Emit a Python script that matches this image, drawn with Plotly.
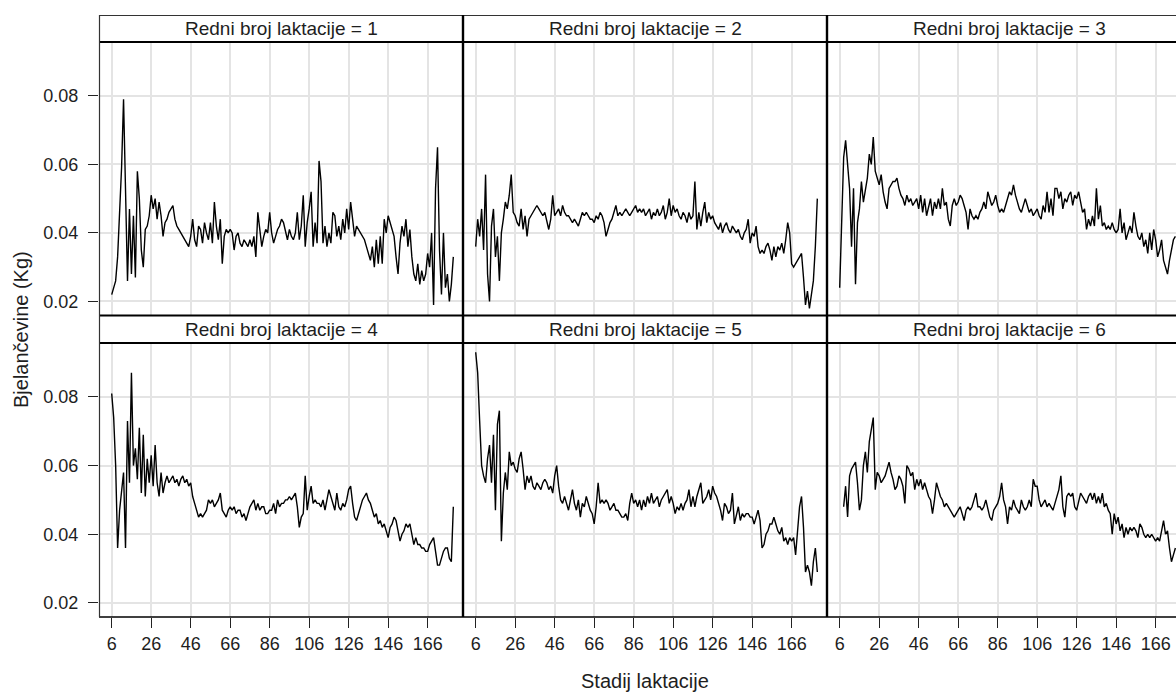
import plotly.graph_objects as go

# ---------------- data ----------------
tick_days = [6, 26, 46, 66, 86, 106, 126, 146, 166]
tick_day_labels = ["6", "26", "46", "66", "86", "106", "126", "146", "166"]
tick_prot = [0.02, 0.04, 0.06, 0.08]
tick_prot_labels = ["0.02", "0.04", "0.06", "0.08"]
panel_titles = ["Redni broj laktacije = 1", "Redni broj laktacije = 2", "Redni broj laktacije = 3",
                "Redni broj laktacije = 4", "Redni broj laktacije = 5", "Redni broj laktacije = 6"]
x_title = "Stadij laktacije"
y_title = "Bjelančevine (Kg)"

first_day = [6, 6, 6, 6, 6, 8]

prot_1 = [
    0.022, 0.024, 0.026, 0.033, 0.046, 0.059, 0.079, 0.053, 0.026, 0.047,
    0.028, 0.045, 0.027, 0.058, 0.050, 0.035, 0.030, 0.041, 0.042, 0.045,
    0.051, 0.047, 0.050, 0.044, 0.049, 0.045, 0.039, 0.043, 0.044, 0.046,
    0.047, 0.048, 0.044, 0.042, 0.041, 0.040, 0.039, 0.038, 0.037, 0.036,
    0.039, 0.044, 0.038, 0.036, 0.042, 0.041, 0.037, 0.043, 0.040, 0.038,
    0.043, 0.037, 0.049, 0.042, 0.038, 0.044, 0.031, 0.039, 0.041, 0.040,
    0.041, 0.040, 0.035, 0.039, 0.040, 0.037, 0.036, 0.038, 0.037, 0.036,
    0.038, 0.036, 0.039, 0.033, 0.046, 0.040, 0.036, 0.039, 0.041, 0.040,
    0.046, 0.040, 0.037, 0.039, 0.041, 0.042, 0.044, 0.043, 0.040, 0.038,
    0.041, 0.039, 0.038, 0.040, 0.046, 0.038, 0.042, 0.051, 0.036, 0.043,
    0.047, 0.052, 0.036, 0.043, 0.037, 0.061, 0.055, 0.037, 0.042, 0.036,
    0.040, 0.037, 0.046, 0.045, 0.039, 0.042, 0.038, 0.044, 0.040, 0.047,
    0.041, 0.049, 0.044, 0.039, 0.042, 0.041, 0.040, 0.039, 0.038, 0.036,
    0.034, 0.032, 0.036, 0.030, 0.038, 0.031, 0.039, 0.031, 0.044, 0.040,
    0.045, 0.043, 0.041, 0.039, 0.033, 0.028, 0.037, 0.042, 0.039, 0.044,
    0.036, 0.041, 0.033, 0.028, 0.026, 0.031, 0.025, 0.029, 0.026, 0.028,
    0.034, 0.030, 0.040, 0.019, 0.053, 0.065, 0.035, 0.022, 0.040, 0.024,
    0.028, 0.020, 0.025, 0.033,
]

prot_2 = [
    0.036, 0.044, 0.039, 0.047, 0.035, 0.057, 0.028, 0.020, 0.042, 0.047,
    0.033, 0.039, 0.026, 0.040, 0.044, 0.049, 0.047, 0.051, 0.057, 0.046,
    0.045, 0.043, 0.042, 0.047, 0.041, 0.045, 0.039, 0.044, 0.045, 0.046,
    0.047, 0.048, 0.047, 0.046, 0.045, 0.046, 0.043, 0.041, 0.044, 0.051,
    0.045, 0.046, 0.047, 0.045, 0.048,
    0.046, 0.045, 0.045, 0.044, 0.043, 0.044, 0.043, 0.042, 0.044, 0.046,
    0.045, 0.046, 0.045, 0.044, 0.044, 0.043, 0.045, 0.044, 0.046, 0.045,
    0.043, 0.039, 0.041, 0.043, 0.044, 0.046, 0.048, 0.045, 0.046, 0.045,
    0.046, 0.047, 0.046, 0.045, 0.046, 0.047, 0.048, 0.046, 0.047, 0.046,
    0.047, 0.045, 0.046, 0.047, 0.044, 0.046, 0.045, 0.047, 0.045, 0.046,
    0.048, 0.044, 0.046, 0.050, 0.045, 0.048, 0.046, 0.047, 0.045, 0.044,
    0.046, 0.045, 0.043, 0.046, 0.044, 0.045, 0.055, 0.041, 0.046, 0.042,
    0.046, 0.049, 0.043, 0.046, 0.044, 0.045, 0.043, 0.042, 0.041, 0.043,
    0.040, 0.042, 0.043, 0.041, 0.040, 0.042, 0.041, 0.040, 0.041, 0.039,
    0.038, 0.040, 0.041, 0.044, 0.037, 0.040, 0.039, 0.042, 0.036, 0.034,
    0.035, 0.034, 0.036, 0.037, 0.035, 0.032, 0.036, 0.033, 0.036, 0.035,
    0.037, 0.034, 0.038, 0.043, 0.040, 0.031, 0.030, 0.031, 0.032, 0.033,
    0.034, 0.027, 0.019, 0.023, 0.018, 0.022, 0.026, 0.036, 0.050,
]

prot_3 = [
    0.024, 0.044, 0.062, 0.067, 0.059, 0.053, 0.036, 0.053, 0.025, 0.043,
    0.047, 0.055, 0.049, 0.052, 0.056, 0.063, 0.060, 0.068, 0.058, 0.056,
    0.054, 0.057, 0.052, 0.049, 0.047,
    0.053, 0.054, 0.055, 0.055, 0.056, 0.053, 0.051, 0.050, 0.048, 0.051,
    0.049, 0.050, 0.048, 0.049, 0.050, 0.047, 0.051, 0.046, 0.050, 0.045,
    0.048, 0.050, 0.045, 0.049, 0.047, 0.050, 0.047, 0.053, 0.048, 0.049,
    0.044, 0.042, 0.048, 0.050, 0.048, 0.049, 0.051, 0.050, 0.048, 0.046,
    0.041, 0.047, 0.045, 0.044, 0.045, 0.044, 0.046, 0.047, 0.049, 0.047,
    0.052, 0.050, 0.048, 0.049, 0.051, 0.048, 0.046, 0.047, 0.046, 0.048,
    0.050, 0.052, 0.051, 0.054, 0.051, 0.049, 0.047, 0.046, 0.048, 0.050,
    0.048, 0.046, 0.047, 0.045, 0.046, 0.047, 0.045, 0.044, 0.048, 0.046,
    0.052, 0.046, 0.050, 0.045, 0.053, 0.053, 0.050, 0.052, 0.047, 0.050,
    0.049, 0.051, 0.052, 0.048, 0.051, 0.050, 0.052, 0.049, 0.046, 0.047,
    0.041, 0.044, 0.042, 0.045, 0.042, 0.053, 0.044, 0.048, 0.042, 0.043,
    0.041, 0.042, 0.041, 0.043, 0.041, 0.040, 0.041, 0.047, 0.040, 0.043,
    0.038, 0.040, 0.042, 0.040, 0.046, 0.042, 0.039, 0.038, 0.040, 0.036,
    0.038, 0.034, 0.040, 0.035, 0.041, 0.038, 0.033, 0.035, 0.038, 0.032,
    0.030, 0.028, 0.032, 0.035, 0.038, 0.039,
]

prot_4 = [
    0.081, 0.074, 0.060, 0.036, 0.047, 0.052, 0.058, 0.036, 0.073, 0.055,
    0.087, 0.060, 0.065, 0.056, 0.071, 0.052, 0.069, 0.051, 0.062, 0.055,
    0.063, 0.054, 0.066, 0.055, 0.051, 0.058, 0.052, 0.055, 0.057, 0.055,
    0.056, 0.057, 0.055, 0.056, 0.054, 0.056, 0.057, 0.055, 0.056, 0.054,
    0.055, 0.051, 0.049, 0.047, 0.045,
    0.046, 0.045, 0.046, 0.047, 0.050, 0.049, 0.050, 0.048, 0.049, 0.050,
    0.052, 0.047, 0.046, 0.045, 0.047, 0.048, 0.047, 0.048, 0.046, 0.047,
    0.047, 0.045, 0.046, 0.044, 0.046, 0.048, 0.049, 0.050, 0.047, 0.049,
    0.047, 0.048, 0.048, 0.046, 0.046, 0.047, 0.047, 0.049, 0.046, 0.050,
    0.048, 0.049, 0.049, 0.050, 0.050, 0.051, 0.050, 0.051, 0.052, 0.048,
    0.042, 0.045, 0.046, 0.057, 0.047, 0.051, 0.054, 0.049, 0.050, 0.049,
    0.049, 0.048, 0.050, 0.047, 0.050, 0.053, 0.051, 0.049, 0.047, 0.052,
    0.048, 0.047, 0.049, 0.048, 0.050, 0.053, 0.054, 0.049, 0.045, 0.044,
    0.046, 0.048, 0.050, 0.051, 0.052, 0.050, 0.049, 0.047, 0.045, 0.046,
    0.043, 0.044, 0.042, 0.043, 0.041, 0.039, 0.042, 0.043, 0.045, 0.044,
    0.041, 0.038, 0.040, 0.041, 0.043, 0.042, 0.043, 0.040, 0.037, 0.039,
    0.037, 0.037, 0.036, 0.036, 0.035, 0.035, 0.037, 0.038, 0.039, 0.035,
    0.031, 0.031, 0.033, 0.035, 0.036, 0.036, 0.033, 0.032, 0.048,
]

prot_5 = [
    0.093, 0.087, 0.073, 0.060, 0.057, 0.055, 0.062, 0.066, 0.055, 0.069,
    0.047, 0.072, 0.076, 0.038, 0.052, 0.058, 0.053, 0.064, 0.060, 0.061,
    0.059, 0.058, 0.062, 0.064, 0.059, 0.053, 0.057, 0.055, 0.057, 0.054,
    0.053, 0.055, 0.054, 0.053, 0.055, 0.056, 0.055, 0.053, 0.054, 0.052,
    0.057, 0.060, 0.054, 0.050, 0.049,
    0.051, 0.049, 0.047, 0.050, 0.053, 0.049, 0.047, 0.050, 0.045, 0.049,
    0.048, 0.051, 0.049, 0.047, 0.046, 0.043, 0.048, 0.055, 0.049, 0.050,
    0.049, 0.050, 0.049, 0.047, 0.048, 0.049, 0.047, 0.047, 0.046, 0.045,
    0.045, 0.046, 0.044, 0.049, 0.052, 0.049, 0.050, 0.048, 0.050, 0.047,
    0.050, 0.048, 0.051, 0.049, 0.052, 0.049, 0.050, 0.051, 0.048, 0.050,
    0.051, 0.052, 0.053, 0.049, 0.051, 0.049, 0.046, 0.048, 0.047, 0.049,
    0.047, 0.049, 0.050, 0.053, 0.048, 0.051, 0.048, 0.051, 0.053, 0.055,
    0.049, 0.050, 0.051, 0.053, 0.050, 0.054, 0.052, 0.051, 0.049, 0.047,
    0.044, 0.049, 0.048, 0.046, 0.047, 0.052, 0.043, 0.046, 0.048, 0.044,
    0.046, 0.045, 0.046, 0.046, 0.045, 0.045, 0.043, 0.045, 0.047, 0.044,
    0.036, 0.037, 0.040, 0.041, 0.043, 0.043, 0.045, 0.043, 0.041, 0.040,
    0.042, 0.038, 0.039, 0.037, 0.039, 0.038, 0.039, 0.034, 0.040, 0.048,
    0.051, 0.042, 0.029, 0.031, 0.029, 0.025, 0.032, 0.036, 0.029,
]

prot_6 = [
    0.048, 0.054, 0.045, 0.057, 0.059, 0.060, 0.061, 0.055, 0.047, 0.050,
    0.060, 0.064, 0.058, 0.067, 0.070, 0.074, 0.053, 0.058, 0.057, 0.055,
    0.056, 0.057, 0.059, 0.061, 0.058, 0.056, 0.053, 0.054, 0.057, 0.056,
    0.054, 0.049, 0.060, 0.059, 0.057, 0.058, 0.053, 0.056, 0.054, 0.056,
    0.053, 0.055, 0.053, 0.051, 0.050, 0.046, 0.050, 0.055,
    0.053, 0.051, 0.050, 0.048, 0.049, 0.048, 0.047, 0.046, 0.045, 0.046,
    0.047, 0.048, 0.046, 0.044, 0.047, 0.048, 0.047, 0.048, 0.050, 0.052,
    0.048, 0.048, 0.047, 0.048, 0.050, 0.047, 0.045, 0.044, 0.047, 0.048,
    0.049, 0.051, 0.055, 0.050, 0.048, 0.043, 0.048, 0.047, 0.050, 0.048,
    0.047, 0.046, 0.050, 0.048, 0.047, 0.048, 0.050, 0.048, 0.056, 0.054,
    0.054, 0.050, 0.048, 0.049, 0.050, 0.048, 0.049, 0.048, 0.047, 0.049,
    0.051, 0.053, 0.057, 0.048, 0.045, 0.051, 0.052, 0.051, 0.052, 0.048,
    0.047, 0.050, 0.052, 0.051, 0.050, 0.049, 0.051, 0.052, 0.050, 0.052,
    0.049, 0.051, 0.049, 0.052, 0.048, 0.049, 0.047, 0.046, 0.040, 0.046,
    0.043, 0.045, 0.041, 0.043, 0.039, 0.042, 0.040, 0.042, 0.041, 0.042,
    0.041, 0.039, 0.043, 0.042, 0.040, 0.039, 0.040, 0.039, 0.040, 0.039,
    0.038, 0.039, 0.038, 0.041, 0.044, 0.040, 0.041, 0.036, 0.032, 0.034,
    0.036,
]

series = [prot_1, prot_2, prot_3, prot_4, prot_5, prot_6]

# ---------------- layout geometry (pixels) ----------------
W, H = 1176, 693
col_px = [99, 463, 827, 1191]
row_plot_px = [(42, 315.5), (343, 617)]
row_head_px = [(15, 42), (315.5, 343)]
X_RANGE = [-0.43, 183.9]
Y_RANGE = [0.0159, 0.0957]
FONT = "Liberation Sans, Arial, sans-serif"
TXT = "#1e1e1e"
GRID = "#e4e4e4"


def px_x(p):
    return p / W


def px_y(p):
    return 1 - p / H


units_per_px = (X_RANGE[1] - X_RANGE[0]) / (col_px[1] - col_px[0])

fig = go.Figure()
layout = {}
for i, vals in enumerate(series):
    r, c = divmod(i, 3)
    n = i + 1
    days = list(range(first_day[i], first_day[i] + len(vals)))
    xa = "x" if n == 1 else f"x{n}"
    ya = "y" if n == 1 else f"y{n}"
    fig.add_trace(go.Scatter(x=days, y=vals, mode="lines", xaxis=xa, yaxis=ya,
                             line=dict(color="black", width=1.4), showlegend=False,
                             hoverinfo="skip"))
    right_px = min(col_px[c + 1], W)
    xr = [X_RANGE[0], X_RANGE[0] + (right_px - col_px[c]) * units_per_px]
    key_x = "xaxis" if n == 1 else f"xaxis{n}"
    key_y = "yaxis" if n == 1 else f"yaxis{n}"
    bottom = r == 1
    left = c == 0
    layout[key_x] = dict(
        domain=[px_x(col_px[c]), px_x(right_px)], anchor=ya, range=xr,
        tickmode="array", tickvals=tick_days, ticktext=tick_day_labels,
        showgrid=True, gridcolor=GRID, gridwidth=1.5, zeroline=False, showline=False,
        ticks="outside" if bottom else "", ticklen=10, tickwidth=1, tickcolor="#222",
        showticklabels=bottom, ticklabelstandoff=0,
        tickfont=dict(family=FONT, size=18, color=TXT),
    )
    y0, y1 = row_plot_px[r]
    layout[key_y] = dict(
        domain=[px_y(y1), px_y(y0)], anchor=xa, range=Y_RANGE,
        tickmode="array", tickvals=tick_prot, ticktext=tick_prot_labels,
        showgrid=True, gridcolor=GRID, gridwidth=1.5, zeroline=False, showline=False,
        ticks="outside" if left else "", ticklen=10, tickwidth=1, tickcolor="#222",
        showticklabels=left, ticklabelstandoff=6,
        tickfont=dict(family=FONT, size=18, color=TXT),
    )

shapes = []


def hline(ypx, x0, x1, w, col="black"):
    shapes.append(dict(type="line", xref="paper", yref="paper", x0=px_x(x0), x1=px_x(x1),
                       y0=px_y(ypx), y1=px_y(ypx), line=dict(color=col, width=w)))


def vline(xpx, y0, y1, w, col="black"):
    shapes.append(dict(type="line", xref="paper", yref="paper", x0=px_x(xpx), x1=px_x(xpx),
                       y0=px_y(y0), y1=px_y(y1), line=dict(color=col, width=w)))


hline(15.5, 99, 1195, 1.2, "#333")
hline(42, 99, 1195, 2.2)
hline(315.5, 99, 1195, 2.2)
hline(343, 99, 1195, 2.2)
hline(617, 99, 1195, 1.5)
vline(99.5, 15, 617, 1.2, "#333")
vline(463, 15, 617, 2.4)
vline(827, 15, 617, 2.4)

annotations = []
for i, t in enumerate(panel_titles):
    r, c = divmod(i, 3)
    cx = (col_px[c] + col_px[c + 1]) / 2
    cy = sum(row_head_px[r]) / 2
    annotations.append(dict(text=t, xref="paper", yref="paper", x=px_x(cx), y=px_y(cy),
                            showarrow=False, xanchor="center", yanchor="middle",
                            font=dict(family=FONT, size=19, color=TXT)))
annotations.append(dict(text=x_title, xref="paper", yref="paper", x=px_x(645), y=px_y(681),
                        showarrow=False, xanchor="center", yanchor="middle",
                        font=dict(family=FONT, size=20, color=TXT)))
annotations.append(dict(text=y_title, xref="paper", yref="paper", x=px_x(21), y=px_y(330),
                        showarrow=False, xanchor="center", yanchor="middle", textangle=-90,
                        font=dict(family=FONT, size=20, color=TXT)))

fig.update_layout(width=W, height=H, margin=dict(l=0, r=0, t=0, b=0),
                  paper_bgcolor="white", plot_bgcolor="white",
                  shapes=shapes, annotations=annotations, **layout)

fig.write_html("out.html")
